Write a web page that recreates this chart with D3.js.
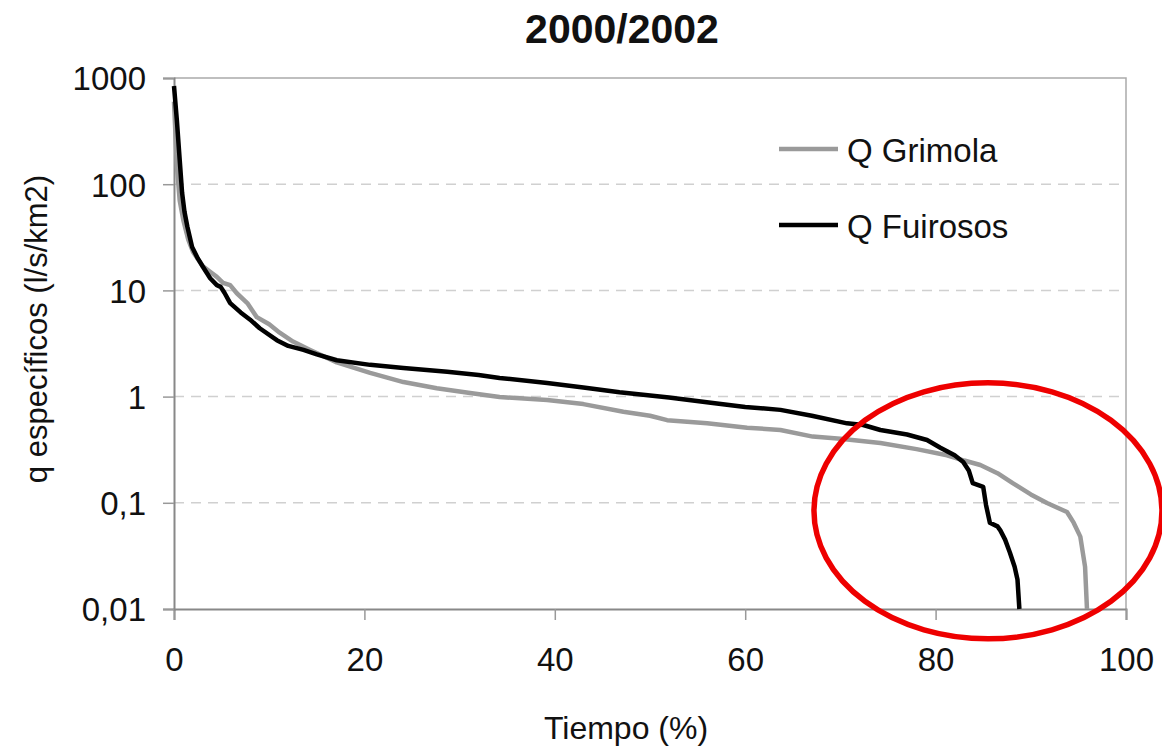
<!DOCTYPE html>
<html>
<head>
<meta charset="utf-8">
<script src="https://cdn.jsdelivr.net/npm/d3@7"></script>
<style>
    body { margin: 0; background: white; }
    text { font-family: "Liberation Sans", Arial, sans-serif; fill: #111; }
</style>
</head>
<body>
<div id="chart-container"></div>
<script>
'use strict'

// Fuirosos: time exceeded (%) and specific discharge (l/s/km2)
var fuirososPct = [0, 0.3, 0.6, 0.85, 1.1, 1.4, 1.9, 2.5, 3.05, 3.8, 4.5, 4.9, 5.3, 5.9, 7, 8, 9, 10.8, 12,
    13.6, 15, 17.1, 20.6, 24.1, 28.7, 32, 34.2, 39.2, 43, 46.8, 52, 56.6, 60, 63.7, 67, 70.7, 72.4, 74.2,
    77, 79.1, 80.5, 82, 82.9, 83.5, 83.9, 85.0, 85.3, 85.7, 86.5, 86.8, 87.3, 87.8, 88.3, 88.6, 88.8]
var fuirososQ = [840, 400, 169, 83, 55, 40, 25.6, 20, 16.6, 13, 11.2, 10.8, 9.5, 7.6, 6.2, 5.3, 4.4, 3.4, 3.0,
    2.75, 2.5, 2.2, 1.99, 1.86, 1.71, 1.6, 1.5, 1.34, 1.22, 1.10, 0.98, 0.87, 0.80, 0.75, 0.66, 0.56, 0.54, 0.485,
    0.44, 0.39, 0.33, 0.28, 0.242, 0.2, 0.153, 0.141, 0.095, 0.065, 0.06, 0.055, 0.045, 0.034, 0.025, 0.019, 0.01]

// Grimola
var grimolaPct = [0, 0.3, 0.6, 1, 1.5, 2, 3, 4, 4.5, 5.15, 5.9, 6.6, 7.7, 8.7, 10, 11.1, 12.5, 14.3, 17.1,
    20.6, 24.1, 27.6, 31.1, 34.2, 39.2, 43, 47.2, 50, 51.8, 56, 60.2, 63.7, 67.1, 70, 74.2, 78, 81.2, 83,
    84.7, 86.5, 88.1, 90, 91.7, 93.8, 94.5, 95.2, 95.7, 95.9]
var grimolaQ = [600, 150, 70, 45, 30, 23, 17, 14.5, 13.4, 11.8, 11.2, 9.4, 7.6, 5.6, 4.8, 4.0, 3.3, 2.75, 2.1,
    1.67, 1.37, 1.2, 1.08, 0.99, 0.93, 0.85, 0.72, 0.66, 0.60, 0.56, 0.51, 0.485, 0.42, 0.40, 0.365, 0.32, 0.28, 0.25,
    0.227, 0.19, 0.153, 0.12, 0.0995, 0.082, 0.065, 0.048, 0.025, 0.01]

var xTicks = [0, 20, 40, 60, 80, 100]
var yTicks = [1000, 100, 10, 1, 0.1, 0.01]
var yTickLabels = ['1000', '100', '10', '1', '0,1', '0,01']

var series = [
    { name: 'Q Grimola', pct: grimolaPct, q: grimolaQ, color: '#9a9a9a' },
    { name: 'Q Fuirosos', pct: fuirososPct, q: fuirososQ, color: '#000000' }
]

var margins = { top: 78, left: 174, right: 36, bottom: 139 }
var totalW = 1162, totalH = 748
var width = totalW - margins.left - margins.right
var height = totalH - margins.top - margins.bottom

var svg = d3.select('#chart-container')
    .append('svg')
        .attr('width', totalW)
        .attr('height', totalH)

var chart = svg.append('g')
    .attr('transform', 'translate(' + margins.left + ',' + margins.top + ')')

let x = d3.scaleLinear().domain([0, 100]).range([0, width])
let y = d3.scaleLog().domain([0.01, 1000]).range([height, 0])

// dashed gridlines
chart.selectAll('.grid').data(yTicks.filter(d => d > 0.01 && d < 1000))
    .enter().append('line')
        .attr('class', 'grid')
        .attr('x1', 0).attr('x2', width)
        .attr('y1', d => y(d)).attr('y2', d => y(d))
        .style('stroke', '#d0d0d0')
        .style('stroke-width', 1.5)
        .style('stroke-dasharray', '10,7')

// frame top and right
chart.append('path')
    .attr('d', 'M0,' + y(1000) + 'H' + width + 'V' + height)
    .style('fill', 'none')
    .style('stroke', '#aaaaaa')
    .style('stroke-width', 1.5)

// x axis
let xAxis = d3.axisBottom(x).tickValues(xTicks).tickSize(11).tickPadding(28)
let gx = chart.append('g')
    .attr('class', 'x axis')
    .attr('transform', 'translate(0,' + height + ')')
    .call(xAxis)
gx.select('.domain').style('stroke', '#888').style('stroke-width', 2)
gx.selectAll('.tick line').style('stroke', '#999').style('stroke-width', 1.5)
gx.selectAll('.tick text').style('font-size', '33px').attr('fill', '#111')

// y axis
let yAxis = d3.axisLeft(y).tickValues(yTicks).tickSize(11).tickPadding(17)
    .tickFormat((d, i) => yTickLabels[i])
let gy = chart.append('g')
    .attr('class', 'y axis')
    .call(yAxis)
gy.select('.domain').style('stroke', '#888').style('stroke-width', 2)
gy.selectAll('.tick line').style('stroke', '#999').style('stroke-width', 1.5)
gy.selectAll('.tick text').style('font-size', '33px').attr('fill', '#111').attr('dy', '0.36em')

// curves
let line = d3.line()
    .x(d => x(d[0]))
    .y(d => y(d[1]))

chart.selectAll('.curve').data(series)
    .enter().append('path')
        .attr('class', 'curve')
        .attr('d', s => line(d3.zip(s.pct, s.q)))
        .style('fill', 'none')
        .style('stroke', s => s.color)
        .style('stroke-width', 4.5)
        .style('stroke-linejoin', 'round')

// legend
let legend = svg.selectAll('.legend').data(series)
    .enter().append('g')
        .attr('class', 'legend')
        .attr('transform', (s, i) => 'translate(779,' + (149 + i * 76) + ')')
legend.append('line')
    .attr('x1', 0).attr('x2', 59)
    .style('stroke', s => s.color)
    .style('stroke-width', 4.5)
legend.append('text')
    .attr('x', 68).attr('y', 13)
    .style('font-size', '33px')
    .text(s => s.name)

// titles
svg.append('text')
    .attr('x', 622).attr('y', 43)
    .style('text-anchor', 'middle')
    .style('font-size', '41px')
    .style('font-weight', 'bold')
    .text('2000/2002')

svg.append('text')
    .attr('x', 626).attr('y', 739)
    .style('text-anchor', 'middle')
    .style('font-size', '32px')
    .text('Tiempo (%)')

svg.append('text')
    .attr('transform', 'translate(47,' + 329 + ') rotate(-90)')
    .style('text-anchor', 'middle')
    .style('font-size', '31px')
    .text('q específicos (l/s/km2)')

// red highlight ellipse
svg.append('ellipse')
    .attr('cx', margins.left + x(85.5))
    .attr('cy', margins.top + y(0.1) + 8)
    .attr('rx', 174)
    .attr('ry', 128)
    .style('fill', 'none')
    .style('stroke', '#ee0000')
    .style('stroke-width', 5.5)
</script>
</body>
</html>
